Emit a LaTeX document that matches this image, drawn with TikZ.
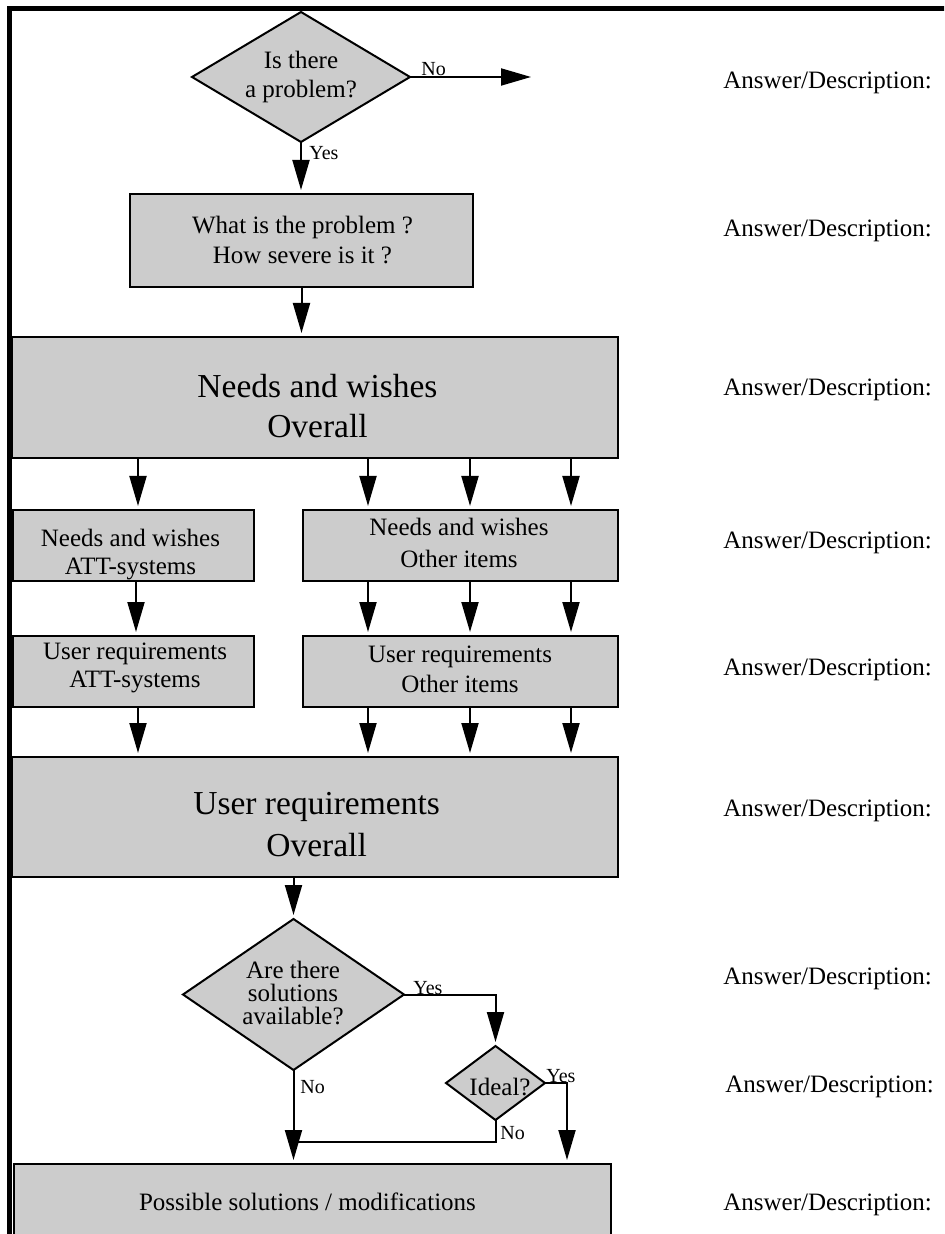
\documentclass[tikz,border=0pt]{standalone}
\usepackage{fontspec}
\setmainfont{Liberation Serif}
\usetikzlibrary{shapes.geometric,arrows.meta,calc}
\definecolor{boxgray}{RGB}{204,204,204}
\begin{document}
\begin{tikzpicture}[x=0.5pt,y=-0.5pt,
  shp/.style={draw=black, line width=1pt, fill=boxgray, inner sep=0pt, outer sep=0pt},
  rbox/.style={shp, rectangle},
  dbox/.style={shp, diamond},
  txt/.style={align=center, inner sep=0pt},
  lbl/.style={inner sep=0pt, anchor=base west, font=\fontsize{10}{12}\selectfont},
  ans/.style={inner sep=0pt, anchor=base west, font=\fontsize{12.5}{15}\selectfont},
  conn/.style={line width=1pt},
  arr/.style={conn, -{Triangle[length=15pt,width=8.5pt]}, shorten >=2pt}]
\useasboundingbox (0,0) rectangle (944,1234);
\clip (0,0) rectangle (944,1234);

% frame
\draw[line width=2.5pt] (9.5,1300) -- (9.5,8.5) -- (960,8.5);

% helper coordinates
\coordinate (noend) at (531,77);
\coordinate (cA) at (138,0);
\coordinate (cAm) at (136,0);
\coordinate (cB) at (368,0);
\coordinate (cC) at (470,0);
\coordinate (cD) at (571,0);
\coordinate (cE) at (567,0);
\coordinate (cJ) at (0,1142);

% shapes
\node[dbox, minimum width=109pt, minimum height=65pt] (d1) at (301,77) {};
\node[rbox, minimum width=171.5pt, minimum height=46.5pt] (box2) at (301.5,240.5) {};
\node[rbox, minimum width=303pt, minimum height=60.5pt] (big1) at (315,397.5) {};
\node[rbox, minimum width=120.5pt, minimum height=35.5pt] (attn) at (133.5,545.5) {};
\node[rbox, minimum width=157.5pt, minimum height=35.5pt] (othn) at (460.5,545.5) {};
\node[rbox, minimum width=120.5pt, minimum height=35.5pt] (attr) at (133.5,671.5) {};
\node[rbox, minimum width=157.5pt, minimum height=35.5pt] (othr) at (460.5,671.5) {};
\node[rbox, minimum width=303pt, minimum height=60pt] (big2) at (315,817) {};
\node[dbox, minimum width=110.5pt, minimum height=75.5pt] (d2) at (293.5,994.5) {};
\node[dbox, minimum width=49.5pt, minimum height=37pt] (d3) at (495.5,1083) {};
\node[rbox, minimum width=298.5pt, minimum height=48pt] (bot) at (312.5,1212) {};

% texts
\node[txt, font=\fontsize{12.5}{14.5}\selectfont] (d1t) at (301,77) {Is there\\a problem?};
\node[txt, font=\fontsize{12.5}{15}\selectfont] (box2t) at (302.5,239.6) {What is the problem ?\\How severe is it ?};
\node[txt, font=\fontsize{16.75}{20}\selectfont] (big1t) at (317.5,405.6) {Needs and wishes\\Overall};
\node[txt, font=\fontsize{12.5}{14}\selectfont] (attnt) at (130.5,555) {Needs and wishes\\ATT-systems};
\node[txt, font=\fontsize{12.5}{16}\selectfont] (othnt) at (459,542.5) {Needs and wishes\\Other items};
\node[txt, font=\fontsize{12.5}{14}\selectfont] (attrt) at (135,668.4) {User requirements\\ATT-systems};
\node[txt, font=\fontsize{12.5}{15}\selectfont] (othrt) at (460,669.7) {User requirements\\Other items};
\node[txt, font=\fontsize{16.75}{21}\selectfont] (big2t) at (316.6,824.9) {User requirements\\Overall};
\node[txt, font=\fontsize{12.5}{11.5}\selectfont] (d2t) at (293,992.5) {Are there\\solutions\\available?};
\node[inner sep=0pt, anchor=base, font=\fontsize{12.5}{15}\selectfont] (d3t) at (500,1095) {Ideal?};
\node[inner sep=0pt, anchor=base, font=\fontsize{12.5}{15}\selectfont] (bott) at (307.5,1210) {Possible solutions / modifications};

% connectors
\draw[arr, shorten >=0pt] (d1.east) -- (noend);
\draw[arr] (d1.south) -- (d1.south |- box2.north);
\draw[arr] (box2.south) -- (box2.south |- big1.north);
\draw[arr] (big1.south -| cA) -- (attn.north -| cA);
\draw[arr] (big1.south -| cB) -- (othn.north -| cB);
\draw[arr] (big1.south -| cC) -- (othn.north -| cC);
\draw[arr] (big1.south -| cD) -- (othn.north -| cD);
\draw[arr] (attn.south -| cAm) -- (attr.north -| cAm);
\draw[arr] (othn.south -| cB) -- (othr.north -| cB);
\draw[arr] (othn.south -| cC) -- (othr.north -| cC);
\draw[arr] (othn.south -| cD) -- (othr.north -| cD);
\draw[arr] (attr.south -| cA) -- (big2.north -| cA);
\draw[arr] (othr.south -| cB) -- (big2.north -| cB);
\draw[arr] (othr.south -| cC) -- (big2.north -| cC);
\draw[arr] (othr.south -| cD) -- (big2.north -| cD);
\draw[arr] (d2.north |- big2.south) -- (d2.north);
\draw[arr] (d2.east) -| (d3.north);
\draw[arr] (d3.east) -| (bot.north -| cE);
\draw[arr] (d2.south) -- (d2.south |- bot.north);
\draw[conn] (d3.south) |- (d2.south |- cJ);

% branch labels
\node[lbl] (no1) at (421,76) {No};
\node[lbl] (yes1) at (309,160) {Yes};
\node[lbl] (yes2) at (413,994) {Yes};
\node[lbl] (no2) at (300,1093) {No};
\node[lbl] (yes3) at (546,1082) {Yes};
\node[lbl] (no3) at (500,1139) {No};

% answer column
\node[ans] (a1) at (723,89) {Answer/Description:};
\node[ans] (a2) at (723,237) {Answer/Description:};
\node[ans] (a3) at (723,396) {Answer/Description:};
\node[ans] (a4) at (723,548) {Answer/Description:};
\node[ans] (a5) at (723,675) {Answer/Description:};
\node[ans] (a6) at (723,816) {Answer/Description:};
\node[ans] (a7) at (723,984) {Answer/Description:};
\node[ans] (a8) at (725,1092) {Answer/Description:};
\node[ans] (a9) at (723,1210) {Answer/Description:};
\end{tikzpicture}
\end{document}
